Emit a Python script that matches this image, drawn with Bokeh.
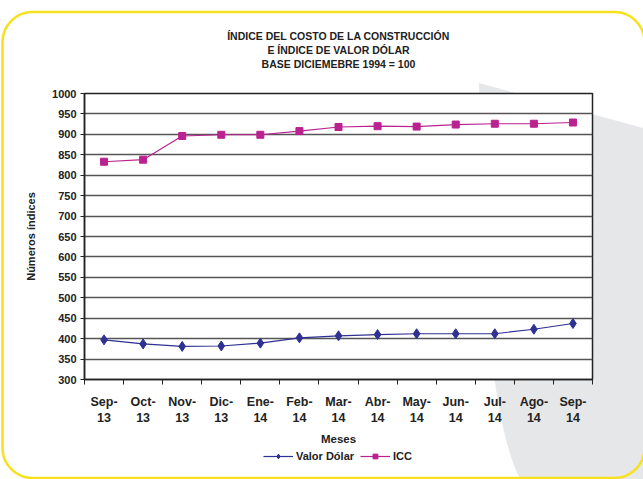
import numpy as np
from bokeh.plotting import figure
from bokeh.layouts import column
from bokeh.models import FixedTicker, Title, Legend, LegendItem, Range1d
from bokeh.embed import file_html
from bokeh.resources import INLINE

months = ["Sep-\n13", "Oct-\n13", "Nov-\n13", "Dic-\n13", "Ene-\n14", "Feb-\n14", "Mar-\n14",
          "Abr-\n14", "May-\n14", "Jun-\n14", "Jul-\n14", "Ago-\n14", "Sep-\n14"]
valor_dolar = [397, 387, 381, 382, 389, 402, 407, 410, 412, 412, 412, 423, 437]
icc = [833, 838, 896, 899, 899, 908, 918, 920, 919, 924, 926, 926, 929]
y_ticks = list(range(300, 1001, 50))

title_lines = ["ÍNDICE DEL COSTO DE LA CONSTRUCCIÓN", "E ÍNDICE DE VALOR DÓLAR", "BASE DICIEMEBRE 1994 = 100"]
series_names = ["Valor Dólar", "ICC"]

FONT = "Liberation Sans"
BLUE = "#2E3192"
MAGENTA = "#BA2290"
INK = "#222222"

n = len(months)
x = np.arange(n) + 0.5

p = figure(width=643, height=449, output_backend="svg", toolbar_location=None,
           x_range=Range1d(0, n), y_range=Range1d(300, 1000),
           min_border_left=84, min_border_right=50, min_border_top=93, min_border_bottom=70)
p.border_fill_color = None
p.background_fill_color = "white"
p.outline_line_color = INK
p.outline_line_width = 1.5

# spacer between title block and plot, then titles (first added is nearest the plot)
p.add_layout(Title(text=" ", text_font=FONT, text_font_size="20px", standoff=0), "above")
for line in reversed(title_lines):
    t = Title(text=line, align="center", text_font=FONT, text_font_size="10.5px",
              text_font_style="bold", text_color=INK, standoff=0)
    p.add_layout(t, "above")

# X axis
p.xaxis.ticker = FixedTicker(ticks=list(x), minor_ticks=list(range(n + 1)))
p.xaxis.major_label_overrides = {float(xv): m for xv, m in zip(x, months)}
p.xaxis.major_tick_line_color = None
p.xaxis.minor_tick_out = 5
p.xaxis.minor_tick_in = 0
p.xaxis.minor_tick_line_color = INK
p.xaxis.minor_tick_line_width = 1
p.xaxis.major_label_text_font = FONT
p.xaxis.major_label_text_font_size = "12.5px"
p.xaxis.major_label_text_font_style = "bold"
p.xaxis.major_label_text_color = INK
p.xaxis.major_label_text_line_height = 1.2
p.xaxis.major_label_standoff = 9
p.xaxis.axis_label = "Meses"
p.xaxis.axis_label_text_font = FONT
p.xaxis.axis_label_text_font_size = "11.5px"
p.xaxis.axis_label_text_font_style = "bold"
p.xaxis.axis_label_text_color = INK
p.xaxis.axis_label_standoff = 5
p.xaxis.axis_line_color = INK
p.xaxis.axis_line_width = 1.5

# Y axis
p.yaxis.ticker = FixedTicker(ticks=y_ticks)
p.yaxis.minor_tick_line_color = None
p.yaxis.major_tick_out = 4
p.yaxis.major_tick_in = 0
p.yaxis.major_tick_line_color = INK
p.yaxis.major_label_text_font = FONT
p.yaxis.major_label_text_font_size = "11px"
p.yaxis.major_label_text_font_style = "bold"
p.yaxis.major_label_text_color = INK
p.yaxis.major_label_standoff = 4
p.yaxis.axis_label = "Números índices"
p.yaxis.axis_label_text_font = FONT
p.yaxis.axis_label_text_font_size = "11px"
p.yaxis.axis_label_text_font_style = "bold"
p.yaxis.axis_label_text_color = INK
p.yaxis.axis_label_standoff = 12
p.yaxis.axis_line_color = INK
p.yaxis.axis_line_width = 1.5

p.xgrid.grid_line_color = None
p.ygrid.ticker = FixedTicker(ticks=y_ticks)
p.ygrid.grid_line_color = "#555555"
p.ygrid.grid_line_width = 1.3

p.line(x, valor_dolar, line_color=BLUE, line_width=1.2)
p.scatter(x, valor_dolar, marker="diamond", size=10, fill_color=BLUE, line_color=BLUE)
p.line(x, icc, line_color=MAGENTA, line_width=1.2)
p.scatter(x, icc, marker="square", size=7, fill_color=MAGENTA, line_color=MAGENTA)

# Legend strip below the chart (series drawn off-range, only their legend glyphs show)
lf = figure(width=643, height=30, output_backend="svg", toolbar_location=None,
            x_range=Range1d(0, n), y_range=Range1d(0, 1),
            min_border_left=70, min_border_right=51, min_border_top=0, min_border_bottom=16)
lf.axis.visible = False
lf.grid.visible = False
lf.outline_line_color = None
lf.border_fill_color = None
lf.background_fill_color = None
ld1 = lf.line(x, valor_dolar, line_color=BLUE, line_width=1.2)
ls1 = lf.scatter(x, valor_dolar, marker="diamond", size=10, fill_color=BLUE, line_color=BLUE)
ld2 = lf.line(x, icc, line_color=MAGENTA, line_width=1.2)
ls2 = lf.scatter(x, icc, marker="square", size=7, fill_color=MAGENTA, line_color=MAGENTA)
legend = Legend(items=[LegendItem(label=series_names[0], renderers=[ld1, ls1]),
                       LegendItem(label=series_names[1], renderers=[ld2, ls2])],
                orientation="horizontal", location="center",
                label_text_font=FONT, label_text_font_size="11px", label_text_font_style="bold",
                label_text_color=INK, glyph_width=30, glyph_height=12, label_standoff=3,
                label_height=12, spacing=6, padding=0, margin=0, border_line_color=None,
                background_fill_alpha=0)
lf.add_layout(legend)

layout = column(p, lf, spacing=0)

bg_svg = (
    "<svg xmlns='http://www.w3.org/2000/svg' width='643' height='479' viewBox='0 0 643 479'>"
    "<path d='M479,83 L643,128 L643,479 L520,479 C496,430 482,330 479,83 Z' fill='%23E6E7E9'/>"
    "<rect x='2.5' y='12' width='642' height='466' rx='30' ry='30' fill='none' stroke='%23F7E11E' stroke-width='2.5'/>"
    "</svg>"
)
layout.styles = {
    "background-image": 'url("data:image/svg+xml;utf8,' + bg_svg + '")',
    "background-size": "643px 479px",
    "background-repeat": "no-repeat",
}

open("out.html", "w").write(file_html(layout, INLINE))
